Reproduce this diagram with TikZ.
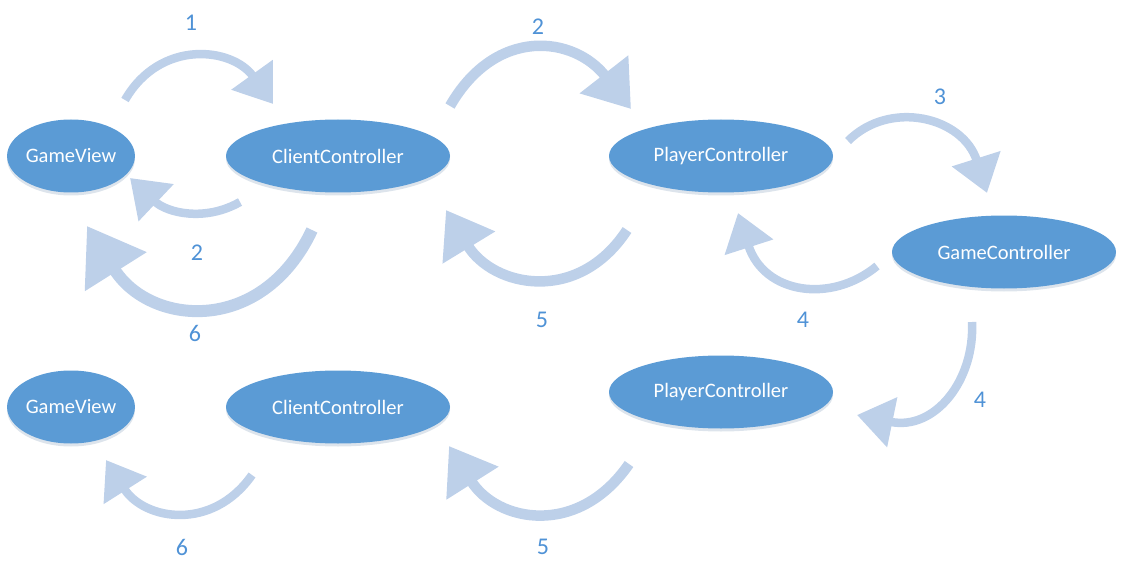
\documentclass[tikz,border=0pt]{standalone}
\usepackage{fontspec}
\setmainfont{Carlito}
\usetikzlibrary{shapes.geometric,arrows.meta,shadows}
\definecolor{ovalblue}{RGB}{91,155,213}
\definecolor{arrowblue}{RGB}{189,208,233}
\definecolor{numblue}{RGB}{79,146,214}
\begin{document}
\begin{tikzpicture}[x=1pt,y=-1pt,
    oval/.style={ellipse,fill=ovalblue,text=white,font=\fontsize{20.5}{24}\selectfont,inner sep=0pt,
        minimum width=224pt,minimum height=73pt,
        drop shadow={shadow xshift=0pt,shadow yshift=-3pt,opacity=.18,fill=ovalblue!70!black}},
    flow/.style={draw=arrowblue,line width=8.5pt,-{Triangle[width=49pt,length=36pt]}},
    bigflow/.style={draw=arrowblue,line width=10.5pt,-{Triangle[width=59pt,length=44pt]}},
    num/.style={text=numblue,font=\fontsize{24}{28}\selectfont}]
\useasboundingbox (0,0) rectangle (1125,575); % Размер картинки
% Верхний ряд
\node[oval,minimum width=126pt] (gv) at (71,156) {GameView};
\node[oval] (cc) at (338,156) {ClientController};
\node[oval] (pc) at (721,156) {PlayerController};
\node[oval] (gc) at (1004,252) {GameController};
% Нижний ряд
\node[oval,minimum width=126pt] (gvb) at (71,407) {GameView};
\node[oval] (ccb) at (338,407) {ClientController};
\node[oval] (pcb) at (721,392) {PlayerController};
% Концы стрелок
\coordinate (a1s) at (125,100);  \coordinate (a1e) at (273,104);
\coordinate (a2s) at (450,106);  \coordinate (a2e) at (631,109);
\coordinate (a3s) at (848,141);  \coordinate (a3e) at (987,193);
\coordinate (b2s) at (240,202);  \coordinate (b2e) at (130,178);
\coordinate (b6s) at (312,230);  \coordinate (b6e) at (87,226);
\coordinate (b5s) at (627,230);  \coordinate (b5e) at (446,210);
\coordinate (b4s) at (877,266);  \coordinate (b4e) at (738,213);
\coordinate (c4s) at (972,322);  \coordinate (c4e) at (857,415);
\coordinate (c6s) at (252,475);  \coordinate (c6e) at (106,460);
\coordinate (c5s) at (629,464);  \coordinate (c5e) at (449,446);
% Стрелки
\draw[flow] (a1s) .. controls (160,39) and (232,47) .. (a1e); % 1
\draw[bigflow] (a2s) .. controls (496,26) and (574,36) .. (a2e); % 2
\draw[flow] (a3s) .. controls (890,99) and (963,117) .. (a3e); % 3
\draw[flow] (b2s) .. controls (205,222) and (167,213) .. (b2e); % 2 назад
\draw[draw=arrowblue,line width=12pt,-{Triangle[width=70pt,length=54pt]}]
    (b6s) .. controls (262,336) and (150,326) .. (b6e); % 6
\draw[bigflow] (b5s) .. controls (578,305) and (493,287) .. (b5e); % 5
\draw[flow] (b4s) .. controls (831,304) and (764,294) .. (b4e); % 4
\draw[flow] (c4s) .. controls (975,380) and (935,431) .. (c4e); % 4 вниз
\draw[flow] (c6s) .. controls (212,532) and (144,520) .. (c6e); % 6 внизу
\draw[bigflow] (c5s) .. controls (578,538) and (497,522) .. (c5e); % 5 внизу
% Номера шагов
\foreach \x/\y/\t [count=\i] in {191/23/1,538/27/2,940/97/3,197/253/2,195/333/6,
    542/320/5,803/320/4,980/400/4,182/547/6,543/547/5}
    \node[num] (lab\i) at (\x,\y) {\t};
\end{tikzpicture}
\end{document}
